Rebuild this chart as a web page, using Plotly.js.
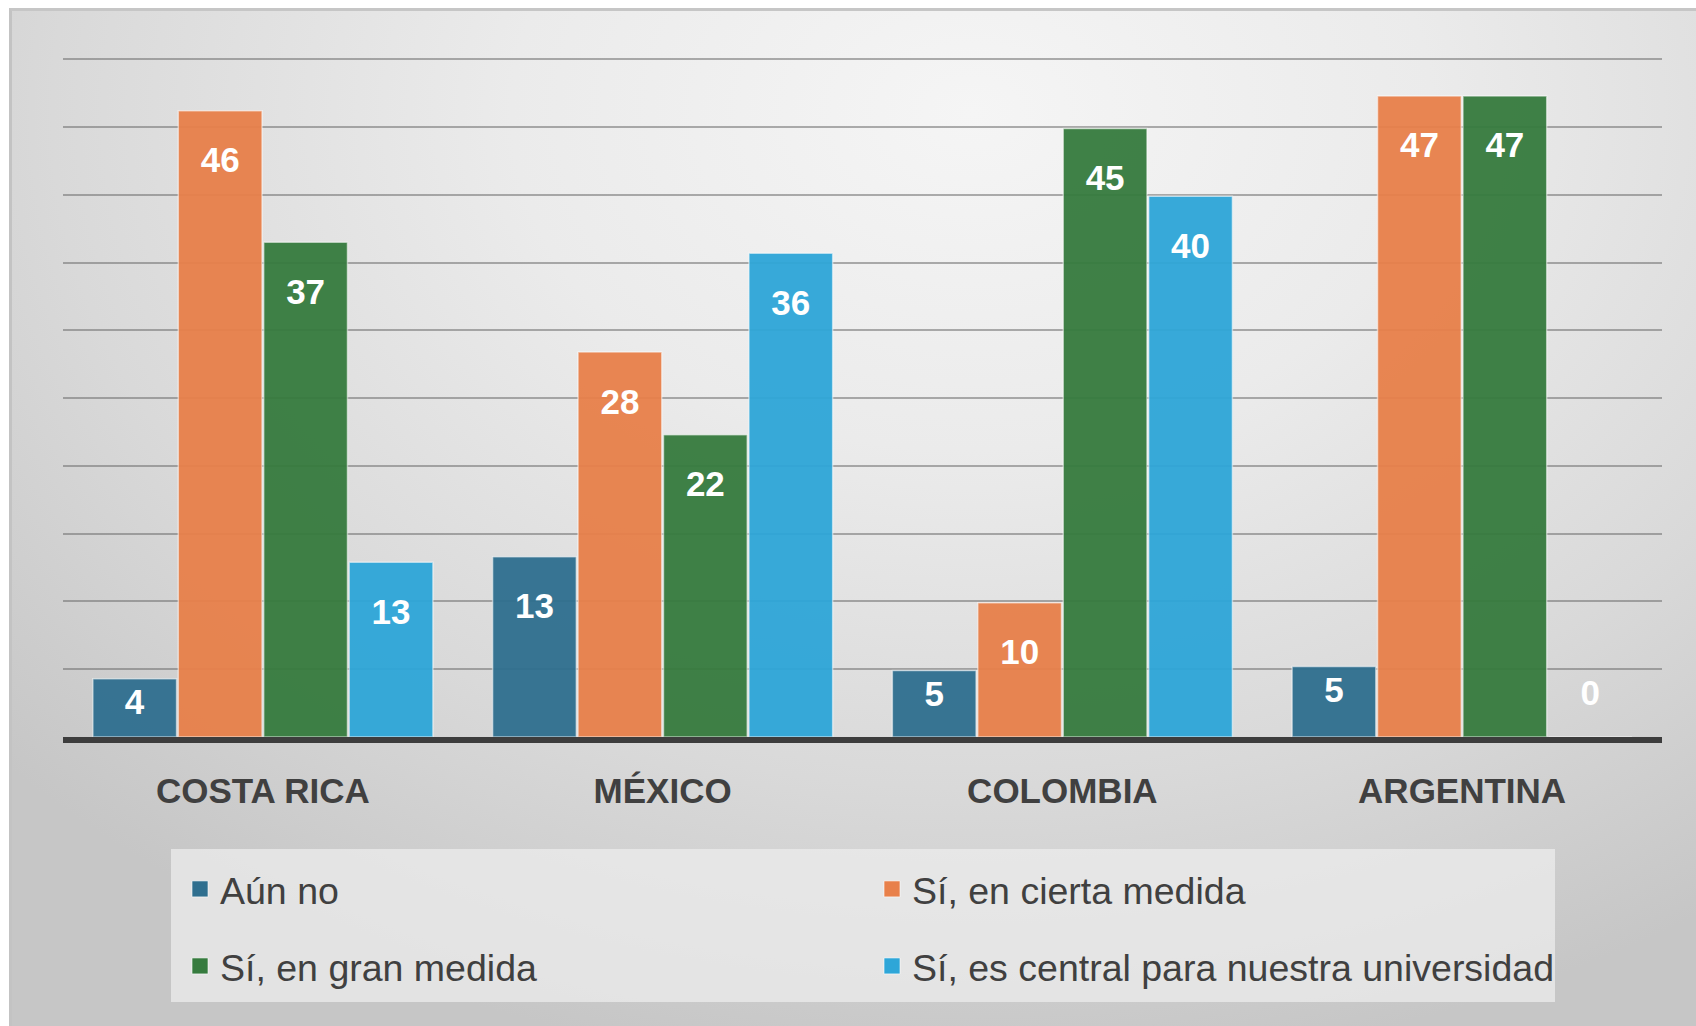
<!DOCTYPE html>
<html>
<head>
<meta charset="utf-8">
<script src="https://cdn.plot.ly/plotly-3.0.1.min.js"></script>
<style>
  html, body { margin: 0; padding: 0; background: #ffffff; }
  #bg {
    position: absolute; left: 9px; top: 8px; width: 1687px; height: 1018px;
    box-sizing: border-box;
    border-left: 3px solid #c3c3c3; border-top: 3px solid #c6c6c6;
    background: radial-gradient(ellipse 78% 95% at 57% 10%, #f5f5f5 0%, #ebebeb 35%, #d9d9d9 70%, #c6c6c6 100%);
  }
  #chart { position: absolute; left: 0; top: 0; width: 1696px; height: 1026px; }
</style>
</head>
<body>
<div id="bg"></div>
<div id="chart"></div>
<script>
// ---- data ----
const countries = ["COSTA RICA", "MÉXICO", "COLOMBIA", "ARGENTINA"];
const seriesNames = ["Aún no", "Sí, en cierta medida", "Sí, en gran medida", "Sí, es central para nuestra universidad"];
// bar heights (labels show the rounded values)
const aunNo = [4.3, 13.3, 4.9, 5.2];
const enCiertaMedida = [46.2, 28.4, 9.9, 47.3];
const enGranMedida = [36.5, 22.3, 44.9, 47.3];
const esCentral = [12.9, 35.7, 39.9, 0];
const seriesColors = ["#2f6f8f", "#e8804a", "#367b3e", "#2ea6d8"];

const seriesValues = [aunNo, enCiertaMedida, enGranMedida, esCentral];
const legendIds = ["legend", "legend", "legend2", "legend2"];

const SPACER = '<span style="font-size:14px;color:rgba(0,0,0,0)">.</span>';

function labelText(v) {
  const n = Math.round(v);
  if (n >= 10) return SPACER + '<br>' + n;          // push number down from bar top
  if (n === 0) return '<span style="font-size:35px">' + n + '</span><br>' + SPACER; // lift zero label
  return String(n);
}
function labelSize(v) { return Math.round(v) === 0 ? 20 : 35; }

const FONT = "Liberation Sans, Arial, sans-serif";

const barTraces = seriesValues.map((vals, i) => {
  const f = { family: FONT, size: vals.map(labelSize), color: "#ffffff", weight: "bold" };
  return {
    type: "bar",
    name: seriesNames[i],
    x: countries,
    y: vals,
    showlegend: false,
    marker: {
      color: seriesColors[i],
      opacity: 0.95,
      line: { color: "rgba(255,255,255,0.55)", width: 1.5 }
    },
    text: vals.map(labelText),
    textposition: vals.map(v => (Math.round(v) === 0 ? "outside" : "inside")),
    insidetextanchor: "end",
    textangle: 0,
    constraintext: "none",
    cliponaxis: false,
    textfont: f, insidetextfont: f, outsidetextfont: f,
    hoverinfo: "skip"
  };
});

// legend entries (square swatches like the original)
const legendTraces = seriesValues.map((vals, i) => ({
  type: "scatter",
  mode: "markers",
  name: seriesNames[i],
  x: countries,
  y: countries.map(() => null),
  legend: legendIds[i],
  showlegend: true,
  marker: { symbol: "square", size: 18, color: seriesColors[i], line: { color: "rgba(255,255,255,0.6)", width: 1 } },
  hoverinfo: "skip"
}));

const W = 1696, H = 1026;
const mL = 63, mR = 34, mT = 58.14, mB = 289;
const plotH = H - mT - mB;
const plotW = W - mL - mR;
function py(pixelY) { return (H - mB - pixelY) / plotH; }
function px(pixelX) { return (pixelX - mL) / plotW; }

const legendFont = { family: FONT, size: 37.5, color: "#404040" };

const layout = {
  width: W, height: H,
  margin: { l: mL, r: mR, t: mT, b: mB, pad: 0 },
  paper_bgcolor: "rgba(0,0,0,0)",
  plot_bgcolor: "rgba(0,0,0,0)",
  barmode: "group",
  bargap: 0.145,
  bargroupgap: 0.02,
  showlegend: true,
  xaxis: {
    type: "category",
    showline: true, linecolor: "#3d3d3d", linewidth: 6,
    showgrid: false, ticks: "", ticklabelstandoff: 18,
    tickfont: { family: FONT, size: 35, color: "#404040", weight: "bold" },
    fixedrange: true
  },
  yaxis: {
    range: [0, 50.1], dtick: 5, tick0: 0,
    showticklabels: false, ticks: "",
    showgrid: true, gridcolor: "rgba(110,110,110,0.55)", gridwidth: 2,
    zeroline: false, showline: false,
    fixedrange: true
  },
  legend: {
    orientation: "h", x: px(180), xanchor: "left", y: py(889), yanchor: "middle",
    entrywidth: 647, entrywidthmode: "pixels", itemsizing: "trace",
    bgcolor: "rgba(0,0,0,0)", font: legendFont, itemclick: false, itemdoubleclick: false
  },
  legend2: {
    orientation: "h", x: px(180), xanchor: "left", y: py(966), yanchor: "middle",
    entrywidth: 647, entrywidthmode: "pixels", itemsizing: "trace",
    bgcolor: "rgba(0,0,0,0)", font: legendFont, itemclick: false, itemdoubleclick: false
  },
  shapes: [{
    type: "rect", xref: "paper", yref: "paper", layer: "below",
    x0: px(171), x1: px(1555), y0: py(1002), y1: py(849),
    fillcolor: "rgba(236,236,236,0.75)", line: { width: 0 }
  }]
};

Plotly.newPlot("chart", barTraces.concat(legendTraces), layout, { displayModeBar: false, staticPlot: true });
</script>
</body>
</html>
